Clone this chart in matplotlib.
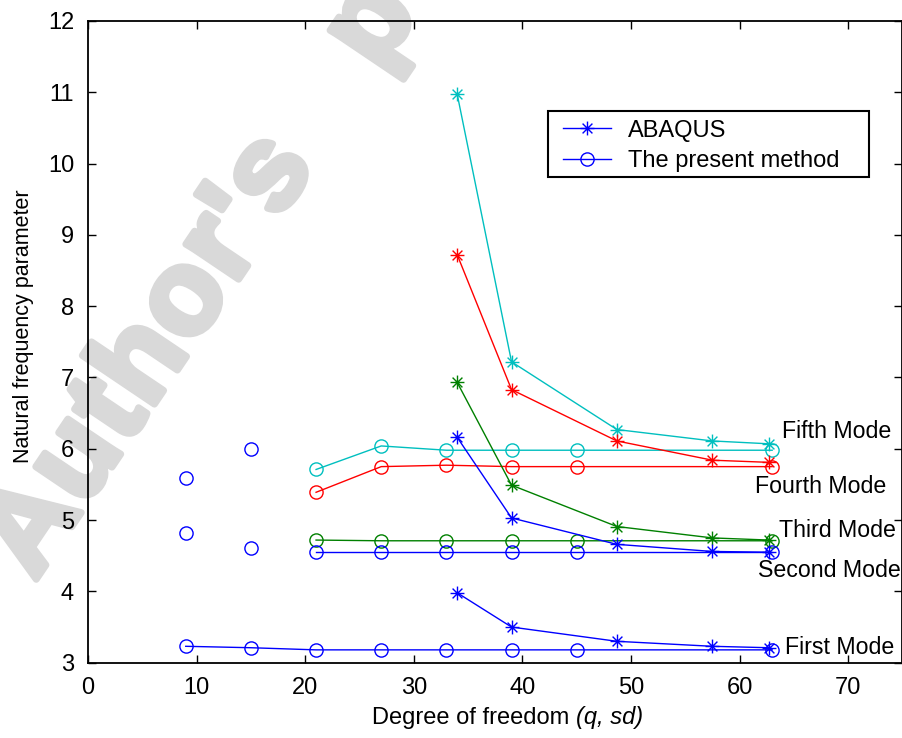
import numpy as np
import matplotlib.pyplot as plt
import matplotlib.patheffects as pe
from matplotlib.path import Path
from matplotlib.patches import Rectangle

plt.rcParams['font.family'] = ['Liberation Sans', 'DejaVu Sans']

# ABAQUS results
dof_abaqus = [34, 39, 48.7, 57.5, 62.7]
abaqus_first = [3.98, 3.50, 3.30, 3.23, 3.21]
abaqus_second = [6.16, 5.03, 4.66, 4.56, 4.55]
abaqus_third = [6.93, 5.49, 4.91, 4.75, 4.72]
abaqus_fourth = [8.72, 6.83, 6.11, 5.84, 5.81]
abaqus_fifth = [10.97, 7.22, 6.27, 6.11, 6.07]

# present method
dof_first = [9, 15, 21, 27, 33, 39, 45, 63]
present_first = [3.23, 3.21, 3.18, 3.18, 3.18, 3.18, 3.18, 3.18]
dof_present = [21, 27, 33, 39, 45, 63]
present_second = [4.55, 4.55, 4.55, 4.55, 4.55, 4.55]
present_third = [4.72, 4.71, 4.71, 4.71, 4.71, 4.71]
present_fourth = [5.39, 5.75, 5.77, 5.75, 5.75, 5.75]
present_fifth = [5.71, 6.04, 5.98, 5.98, 5.98, 5.98]
# coarse meshes, higher modes (no lines)
dof_coarse = [9, 9, 15, 15]
present_coarse = [4.82, 5.59, 4.61, 6.00]

mode_names = ['Fifth Mode', 'Fourth Mode', 'Third Mode', 'Second Mode', 'First Mode']
mode_pos = [(63.9, 6.24), (61.4, 5.47), (63.6, 4.86), (61.7, 4.29), (64.2, 3.22)]

watermark = "Author's personal copy"

# matlab style asterisk
star = Path([(-1, 0), (1, 0), (0, -1), (0, 1),
             (-0.707, -0.707), (0.707, 0.707), (-0.707, 0.707), (0.707, -0.707)],
            [Path.MOVETO, Path.LINETO] * 4)

blue, red, green, cyan = '#0000ff', '#ff0000', '#008000', '#00bfbf'

W, H = 903, 738
fig = plt.figure(figsize=(W / 100, H / 100), dpi=100)
ax = fig.add_axes([88 / W, 75.3 / H, 814.5 / W, 641.7 / H])
ax.set_facecolor('none')

# watermark: letter by letter, behind the axes
adv = {'A': .722, 'u': .611, 't': .333, 'h': .611, 'o': .611, 'r': .389, "'": .238,
       's': .556, ' ': .90, 'p': .611, 'e': .556, 'n': .611, 'a': .556, 'l': .278,
       'c': .556, 'y': .556}
wm_grey = '#d9d9d9'
em, track, ang = 120, 2, np.radians(56)
d = np.array([np.cos(ang), -np.sin(ang)])   # along the baseline, pixel coords
n = np.array([np.sin(ang), np.cos(ang)])    # towards the glyph bottom
pos = -463.0
for ch in watermark:
    px, py = pos * d + 354 * n
    if ch != ' ':
        fig.text(px / W, 1 - py / H, ch, rotation=56, rotation_mode='anchor',
                 ha='left', va='baseline', fontsize=em / 1.389, fontweight='bold',
                 color=wm_grey, zorder=-1,
                 path_effects=[pe.withStroke(linewidth=5, foreground=wm_grey)])
    pos += adv[ch] * em + track

star_kw = dict(marker=star, markersize=10, markerfacecolor='none', markeredgewidth=1.0, lw=1.0)
circ_kw = dict(marker='o', markersize=9.5, markerfacecolor='none', markeredgewidth=1.0)

for y, c in [(present_fifth, cyan), (present_fourth, red), (present_third, green), (present_second, blue)]:
    ax.plot(dof_present, y, color=c, lw=1.0, **circ_kw)
ax.plot(dof_first, present_first, color=blue, lw=1.0, **circ_kw)
ax.plot(dof_coarse, present_coarse, color=blue, ls='none', **circ_kw)

for y, c in [(abaqus_fifth, cyan), (abaqus_fourth, red), (abaqus_third, green),
             (abaqus_second, blue), (abaqus_first, blue)]:
    ax.plot(dof_abaqus, y, color=c, **star_kw)

for name, (x, y) in zip(mode_names, mode_pos):
    ax.text(x, y, name, fontsize=16.7, ha='left', va='center', clip_on=False)

# legend with a hand-placed frame
h1, = ax.plot([], [], color=blue, **star_kw)
h2, = ax.plot([], [], color=blue, lw=1.0, **circ_kw)
fig.legend([h1, h2], ['ABAQUS', 'The present method'], loc='upper left',
           bbox_to_anchor=(562.7 / W, 1 - 119.5 / H), fontsize=17, frameon=False,
           borderaxespad=0, borderpad=0, handlelength=2.05, handletextpad=0.7,
           labelspacing=0.37)
fig.patches.append(Rectangle((547.7 / W, 1 - 176.7 / H), 321.3 / W, 66 / H,
                             transform=fig.transFigure, fill=False, edgecolor='black',
                             linewidth=1.5, zorder=3))

ax.set_xlim(0, 75)
ax.set_ylim(3, 12)
ax.set_xticks(range(0, 71, 10))
ax.set_yticks(range(3, 13))
ax.tick_params(direction='in', top=True, right=True, length=6, width=1.0,
               labelsize=17, pad=10)
for s in ax.spines.values():
    s.set_linewidth(1.3)

# x label: upright text followed by the italic part
xl = fig.text(372 / W, 1 - 723.6 / H, 'Degree of freedom ', fontsize=17,
              ha='left', va='baseline')
ax.annotate('(q, sd)', xy=(1, 0), xycoords=xl, ha='left', va='bottom',
            fontsize=17, style='italic', annotation_clip=False)

ax.set_ylabel('Natural frequency parameter', fontsize=15.5)
ax.yaxis.set_label_coords(-0.066, 0.525)

fig.savefig('out.png', dpi=100)
